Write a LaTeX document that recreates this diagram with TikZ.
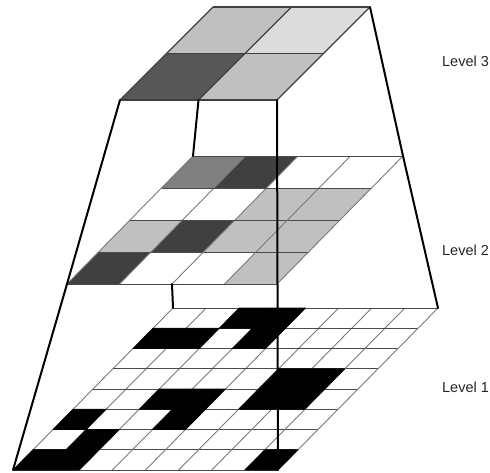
\documentclass[tikz,border=0pt]{standalone}
\usepackage{fontspec}
\setmainfont{Liberation Sans}
\definecolor{cellLight}{HTML}{C0C0C0}
\definecolor{cellPale}{HTML}{DCDCDC}
\definecolor{cellMid}{HTML}{808080}
\definecolor{cellDark}{HTML}{404040}
\definecolor{cellDeep}{HTML}{575757}
\definecolor{rowLine}{HTML}{4A4A4A}
\definecolor{colLine}{HTML}{7A7A7A}
\definecolor{labelText}{HTML}{262626}
\begin{document}
\begin{tikzpicture}[x=1pt,y=-1pt,
  frame/.style={line width=2pt, black, line cap=round, line join=round},
  hline/.style={rowLine, line width=0.9pt},
  sline/.style={colLine, line width=0.9pt},
  topline/.style={cellDark, line width=1.1pt},
  blackcell/.style={fill=black, draw=black, line width=0.6pt, line join=round},
  lbl/.style={font=\fontsize{14.5}{17}\selectfont, text=labelText, inner sep=0pt}]
\useasboundingbox (0,0) rectangle (490,472);

% ---- Level 1: 8x8 grid, black cells painted over the lines ----
\begin{scope}[shift={(13pt,-470pt)}, x={(33.125pt,0pt)}, y={(20pt,20.25pt)}]
  \foreach \k in {0,...,8} {
    \draw[sline] (\k,0) -- (\k,8);
    \draw[hline] (0,\k) -- (8,\k);
  }
  \foreach \c/\j in {2/7,3/7, 0/6,1/6,3/6, 5/4,6/4, 2/3,3/3,5/3,6/3, 0/2,3/2, 1/1, 0/0,1/0,7/0}
    \path[blackcell] (\c,\j) -- ++(1,0) -- ++(0,1) -- ++(-1,0) -- cycle;
  \coordinate (L1BL) at (0,0);
  \coordinate (L1BR) at (8,0);
  \coordinate (L1TL) at (0,8);
  \coordinate (L1TR) at (8,8);
\end{scope}

% ---- Level 2: 4x4 grid ----
\begin{scope}[shift={(67pt,-284pt)}, x={(52.5pt,0pt)}, y={(31.5pt,32pt)}]
  \foreach \c/\j/\col in {0/3/cellMid,1/3/cellDark, 2/2/cellLight,3/2/cellLight,
      0/1/cellLight,1/1/cellDark,2/1/cellLight,3/1/cellLight, 0/0/cellDark,3/0/cellLight}
    \fill[\col] (\c,\j) -- ++(1,0) -- ++(0,1) -- ++(-1,0) -- cycle;
  \foreach \k in {0,...,4} {
    \draw[sline] (\k,0) -- (\k,4);
    \draw[hline] (0,\k) -- (4,\k);
  }
  \coordinate (L2BL) at (0,0);
  \coordinate (L2BM) at (2,0);
  \coordinate (L2BR) at (4,0);
  \coordinate (L2TL) at (0,4);
  \coordinate (L2TR) at (4,4);
\end{scope}

% ---- Level 3: 2x2 grid ----
\begin{scope}[shift={(120pt,-100pt)}, x={(78.5pt,0pt)}, y={(46.5pt,46.5pt)}]
  \foreach \c/\j/\col in {0/1/cellLight,1/1/cellPale, 0/0/cellDeep,1/0/cellLight}
    \fill[\col] (\c,\j) -- ++(1,0) -- ++(0,1) -- ++(-1,0) -- cycle;
  \foreach \k in {0,...,2} {
    \draw[topline] (\k,0) -- (\k,2);
    \draw[topline] (0,\k) -- (2,\k);
  }
  \coordinate (L3BL) at (0,0);
  \coordinate (L3BM) at (1,0);
  \coordinate (L3BR) at (2,0);
  \coordinate (L3TR) at (2,2);
\end{scope}

% ---- pyramid edges ----
\draw[frame] (L3BL) -- (L2BL) -- (L1BL);
\draw[frame] (L3BM) -- (L2TL);
\draw[frame] (L2BM) -- (L1TL);
\draw[frame] (L3BR) -- (L1BR);
\draw[frame] (L3TR) -- (L2TR) -- (L1TR);

% ---- labels ----
\node[lbl] (lab3) at (465.5,61) {Level 3};
\node[lbl] (lab2) at (465.5,250) {Level 2};
\node[lbl] (lab1) at (465.5,387) {Level 1};
\end{tikzpicture}
\end{document}
